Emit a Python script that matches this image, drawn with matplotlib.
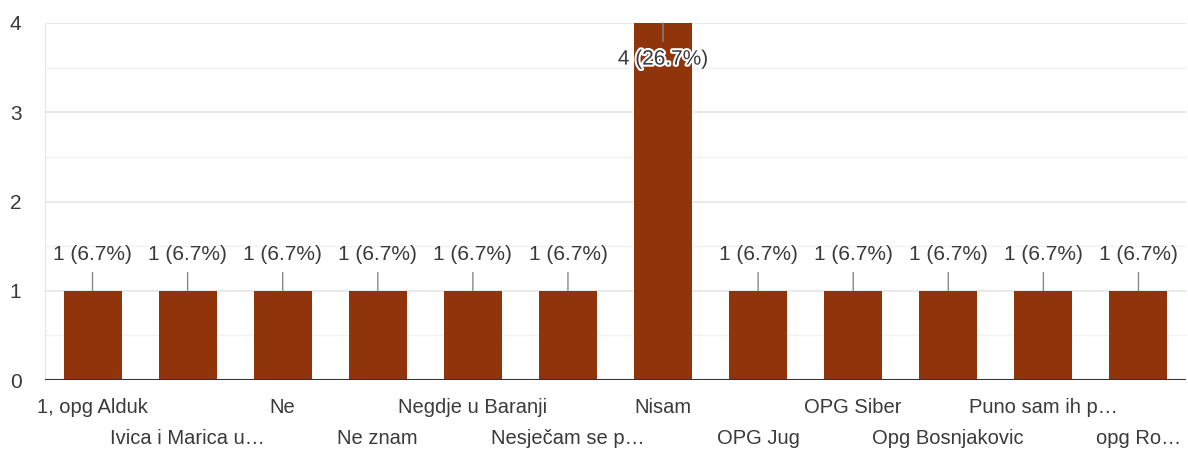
import matplotlib.pyplot as plt
import matplotlib.patheffects as pe

plt.rcParams['font.family'] = ['Liberation Sans', 'DejaVu Sans']

# Data
categories = ["1, opg Alduk", "Ivica i Marica u…", "Ne", "Ne znam", "Negdje u Baranji",
              "Nesječam se p…", "Nisam", "OPG Jug", "OPG Siber", "Opg Bosnjakovic",
              "Puno sam ih p…", "opg Ro…"]
counts = [1, 1, 1, 1, 1, 1, 4, 1, 1, 1, 1, 1]
total = 15

bar_color = "#8f340b"
text_color = "#3a3a3a"

fig = plt.figure(figsize=(11.88, 4.5), dpi=100)
ax = fig.add_axes([45 / 1188, 70 / 450, 1141 / 1188, 357 / 450])

x = list(range(len(categories)))
ax.bar(x, counts, width=0.61, color=bar_color, zorder=3)

ax.set_xlim(-0.5, len(categories) - 0.5)
ax.set_ylim(0, 4)

# gridlines
for v in [0.5, 1.5, 2.5, 3.5]:
    ax.axhline(v, color="#f2f2f2", lw=1, zorder=1)
for v in [1, 2, 3, 4]:
    ax.axhline(v, color="#e6e6e6", lw=1.2, zorder=1)
ax.axhline(0, color="#333333", lw=1.5, zorder=4)

for s in ["top", "right", "bottom"]:
    ax.spines[s].set_visible(False)
ax.spines["left"].set_color("#e6e6e6")

ax.set_yticks([0, 1, 2, 3, 4])
ax.tick_params(axis="y", length=0, pad=17, labelsize=15, labelcolor=text_color)
ax.tick_params(axis="x", length=0)
ax.set_xticks(x)
ax.set_xticklabels([])

# staggered category labels
for i, name in enumerate(categories):
    yoff = -20 if i % 2 == 0 else -42
    ax.annotate(name, xy=(i, 0), xytext=(0, yoff), textcoords="offset points",
                ha="center", va="center", fontsize=14.5, color=text_color,
                annotation_clip=False)

# value labels with leader lines
for i, c in enumerate(counts):
    label = f"{c} ({c / total * 100:.1f}%)"
    if c >= 4:
        ax.annotate(label, xy=(i, c), xytext=(0, -26), textcoords="offset points",
                    ha="center", va="center", fontsize=15, color=text_color, zorder=6,
                    path_effects=[pe.withStroke(linewidth=3, foreground="white")],
                    arrowprops=dict(arrowstyle="-", color="#888888", lw=1,
                                    shrinkA=4, shrinkB=0))
    else:
        ax.annotate(label, xy=(i, c), xytext=(0, 26), textcoords="offset points",
                    ha="center", va="center", fontsize=15, color=text_color, zorder=6,
                    arrowprops=dict(arrowstyle="-", color="#888888", lw=1,
                                    shrinkA=4, shrinkB=0))

fig.savefig("out.png", dpi=100)
